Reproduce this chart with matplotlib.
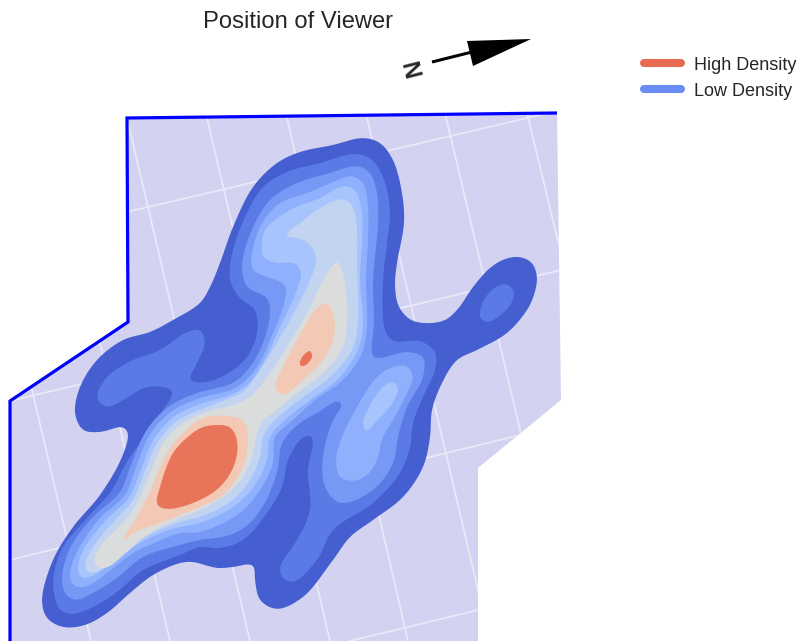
import numpy as np
import matplotlib
matplotlib.use("Agg")
import matplotlib.pyplot as plt
from matplotlib.patches import Polygon

plt.rcParams['font.family'] = ['Liberation Sans', 'DejaVu Sans']

TITLE = "Position of Viewer"
LEGEND_LABELS = ["High Density", "Low Density"]
LEGEND_COLORS = ["#E76A52", "#6B8CF2"]

REGION = [(127,118),(557,113),(561,400),(478,468),(478,641),(10,641),(10,401),(127,322)]
BORDER = [(10,641),(10,401),(128,322),(127,118),(557,113)]

GRID_A = [((32,390),(91,641)),((100,343),(170,641)),((127,118),(250,641)),((207,118),(330,641)),
          ((287,118),(408,641)),((367,118),(490,641)),((445,113),(570,641)),((527,113),(565,270))]
GRID_B = [((127,212),(557,111)),((10,401),(561,270)),((10,560),(520,435)),((350,641),(478,610))]

LEVEL_COLORS = ["#455FD0","#5A7BE6","#7599F4","#8FB0FC","#A8C4FD","#C3D4F0","#DBDCDC","#F3C9B6","#E8745A"]

L0 = [(363,138),(380,143),(393,160),(402,193),(404,223),(397,263),(395,285),(399,307),(413,321),(443,321),(457,310),
      (473,287),(490,268),(505,259),(520,257),(532,263),(537,277),(534,295),(527,310),(507,333),(477,350),(457,360),(442,383),
      (432,410),(430,437),(423,467),(403,497),(373,520),(350,537),(333,560),(303,597),(277,609),(260,600),(255,580),
      (253,565),(233,567),(217,568),(193,562),(180,563),(153,575),(130,593),(107,613),(85,625),(63,627),(47,618),(42,600),
      (53,560),(73,527),(100,495),(122,457),(128,433),(123,427),(100,432),(83,430),(75,413),(80,387),(97,360),(123,340),
      (150,332),(173,320),(200,303),(210,287),(220,263),(233,227),(253,187),(277,163),(300,152),(333,145)]
L1 = [(353,154),(370,158),(383,177),(390,210),(387,243),(383,280),(385,330),(393,341),(420,341),(435,352),(435,370),(423,397),
      (413,423),(410,447),(400,473),(373,503),(333,530),(317,560),(293,582),(282,577),(280,567),(297,540),(310,510),(308,470),
      (313,440),(310,435),(300,440),(288,460),(282,487),(267,513),(243,540),(220,548),(200,547),(180,555),(143,570),(117,592),
      (93,607),(73,614),(60,610),(54,593),(54,573),(63,547),(87,518),(112,490),(125,465),(142,440),(150,430),(163,410),(173,392),
      (167,388),(147,387),(123,400),(107,407),(97,398),(107,377),(133,360),(160,350),(187,332),(200,330),(205,342),(197,363),
      (190,380),(207,382),(230,372),(247,357),(257,333),(255,310),(240,298),(230,280),(233,250),(247,213),(263,187),(287,172),(320,163)]
L1B = [(505,284),(513,290),(512,302),(498,317),(487,322),(480,317),(483,302),(493,289)]
L2 = [(357,166),(370,173),(377,193),(378,223),(375,257),(373,280),(374,320),(373,357),(380,358),(407,352),(423,357),(423,377),
      (407,407),(398,437),(393,463),(373,490),(340,503),(325,487),(323,457),(333,420),(342,405),(338,401),(317,413),(300,423),
      (282,443),(278,467),(268,497),(250,523),(230,535),(200,540),(180,545),(143,557),(117,578),(93,593),(75,600),(65,593),(62,577),
      (70,548),(93,517),(120,492),(131,465),(146,431),(168,407),(197,393),(225,386),(236,381),(250,367),(263,343),(270,313),(267,298),
      (247,287),(242,270),(243,257),(253,227),(270,200),(297,183),(330,173)]
L3 = [(352,176),(363,183),(368,207),(368,240),(366,280),(367,327),(362,353),(343,380),(315,400),(293,420),(275,437),(273,463),(260,490),
      (240,513),(200,532),(180,533),(157,542),(133,553),(107,573),(85,587),(73,585),(70,573),(78,550),(100,518),(125,495),(136,467),
      (150,434),(172,411),(200,398),(228,391),(240,385),(257,367),(273,333),(285,300),(285,285),(270,278),(253,270),(252,253),(262,223),
      (280,203),(307,193),(333,182)]
L3B = [(407,366),(413,377),(407,393),(393,420),(383,437),(377,460),(367,475),(353,481),(340,477),(336,460),(342,437),(357,407),(377,377),(393,367)]
L4 = [(343,186),(355,190),(362,213),(362,243),(360,280),(363,323),(358,350),(337,380),(310,400),(285,420),(270,437),(267,460),(255,485),
      (233,507),(200,523),(180,527),(163,532),(140,543),(113,562),(90,577),(80,577),(78,568),(83,550),(108,518),(129,498),(141,469),
      (155,437),(176,415),(203,403),(230,395),(247,385),(263,363),(280,327),(298,287),(301,273),(295,263),(277,263),(263,257),(262,247),
      (265,230),(290,210),(320,198)]
L4B = [(393,382),(398,388),(393,402),(375,423),(366,431),(363,422),(373,400),(385,385)]
L5 = [(342,199),(352,205),(357,230),(357,263),(358,320),(352,350),(330,377),(303,397),(277,418),(263,437),(260,457),(250,480),(230,502),
      (200,517),(180,522),(143,538),(120,555),(97,572),(87,572),(85,565),(93,547),(117,518),(133,500),(145,471),(159,440),(180,419),
      (205,408),(230,398),(243,392),(258,373),(277,343),(297,307),(310,280),(316,263),(315,253),(307,242),(292,237),(286,237),(287,233),
      (300,223),(320,208)]
L6 = [(337,261),(344,277),(347,320),(343,347),(323,373),(297,393),(273,413),(263,420),(257,433),(253,453),(243,477),(223,497),(200,510),
      (180,518),(147,535),(127,552),(108,567),(98,568),(94,562),(100,547),(127,518),(137,503),(150,473),(163,443),(183,423),(207,412),
      (233,405),(250,397),(267,377),(287,347),(307,313),(323,280),(332,266)]
L7 = [(227,416),(243,420),(248,437),(243,467),(223,495),(197,508),(160,523),(133,533),(125,540),(123,540),(137,517),(152,487),(167,453),
      (183,433),(203,418)]
L7B = [(327,303),(333,313),(334,337),(323,360),(303,380),(283,395),(275,388),(280,373),(297,340),(313,313),(322,304)]
L8 = [(217,425),(230,427),(237,440),(235,463),(220,487),(193,503),(167,509),(157,505),(160,487),(173,453),(190,435),(203,427)]
L8B = [(310,351),(312,357),(304,366),(300,365),(302,357)]

LEVELS = [(0,L0),(1,L1),(1,L1B),(2,L2),(3,L3),(3,L3B),(4,L4),(4,L4B),(5,L5),(6,L6),(7,L7),(7,L7B),(8,L8),(8,L8B)]

ARROW_SHAFT = [(432,62),(472,52)]
ARROW_HEAD = [(467,41),(531,39),(473,66)]


def smooth(points, n=14, alpha=0.5):
    p = np.asarray(points, float)
    m = len(p)
    out = []
    for i in range(m):
        p0, p1, p2, p3 = p[(i-1) % m], p[i], p[(i+1) % m], p[(i+2) % m]
        t0 = 0.0
        t1 = t0 + np.linalg.norm(p1-p0)**alpha
        t2 = t1 + np.linalg.norm(p2-p1)**alpha
        t3 = t2 + np.linalg.norm(p3-p2)**alpha
        t = np.linspace(t1, t2, n, endpoint=False)[:, None]
        a1 = (t1-t)/(t1-t0)*p0 + (t-t0)/(t1-t0)*p1
        a2 = (t2-t)/(t2-t1)*p1 + (t-t1)/(t2-t1)*p2
        a3 = (t3-t)/(t3-t2)*p2 + (t-t2)/(t3-t2)*p3
        b1 = (t2-t)/(t2-t0)*a1 + (t-t0)/(t2-t0)*a2
        b2 = (t3-t)/(t3-t1)*a2 + (t-t1)/(t3-t1)*a3
        out.append((t2-t)/(t2-t1)*b1 + (t-t1)/(t2-t1)*b2)
    c = np.vstack(out)
    closed = np.vstack([c, c[:1]])
    s = np.r_[0, np.cumsum(np.linalg.norm(np.diff(closed, axis=0), axis=1))]
    N = max(int(s[-1]), 24)
    u = np.linspace(0, s[-1], N, endpoint=False)
    r = np.c_[np.interp(u, s, closed[:, 0]), np.interp(u, s, closed[:, 1])]
    sigma = min(3.0, s[-1] / 70)
    freq = np.fft.fftfreq(N, d=s[-1] / N)
    g = np.exp(-2 * (np.pi * freq * sigma) ** 2)
    return np.c_[np.fft.ifft(np.fft.fft(r[:, 0]) * g).real, np.fft.ifft(np.fft.fft(r[:, 1]) * g).real]


fig = plt.figure(figsize=(7.98, 6.41), dpi=100)
ax = fig.add_axes([0, 0, 1, 1])
ax.set_xlim(0, 798)
ax.set_ylim(641, 0)
ax.axis("off")

region = Polygon(REGION, closed=True, facecolor="#D3D3F1", edgecolor="none", zorder=1)
ax.add_patch(region)
for seg in GRID_A + GRID_B:
    xs, ys = zip(*seg)
    ln, = ax.plot(xs, ys, color="#E9E9FA", lw=1.3, zorder=2)
    ln.set_clip_path(region)

for k, (lev, pts) in enumerate(LEVELS):
    ax.add_patch(Polygon(smooth(pts), closed=True, facecolor=LEVEL_COLORS[lev],
                         edgecolor="none", zorder=3 + k * 0.01))

xs, ys = zip(*BORDER)
ax.plot(xs, ys, color="#0000FF", lw=2.3, zorder=5, solid_joinstyle="miter", solid_capstyle="butt")

ax.text(298, 22, TITLE, ha="center", va="center", fontsize=17.1, color="#262626")

xs, ys = zip(*ARROW_SHAFT)
ax.plot(xs, ys, color="black", lw=2.2, zorder=6, solid_capstyle="butt")
ax.add_patch(Polygon(ARROW_HEAD, closed=True, facecolor="black", edgecolor="none", zorder=6))
ax.text(414, 67, "N", rotation=104, ha="center", va="center", fontsize=17,
        fontweight="bold", color="#262626", rotation_mode="anchor")

for y, c, lab in zip([63, 89], LEGEND_COLORS, LEGEND_LABELS):
    ax.plot([644, 681], [y, y], color=c, lw=5.8, solid_capstyle="round", zorder=6)
    ax.text(694, y + 2, lab, ha="left", va="center", fontsize=13, color="#262626")

fig.savefig("out.png", dpi=100)
